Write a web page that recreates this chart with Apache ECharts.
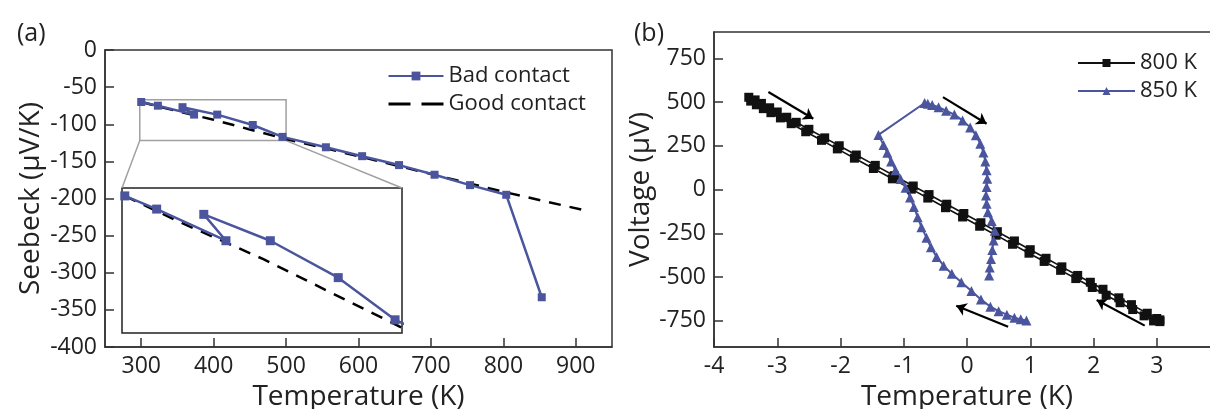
<!DOCTYPE html>
<html>
<head>
<meta charset="utf-8">
<script src="https://cdn.jsdelivr.net/npm/echarts/dist/echarts.min.js"></script>
<style>
  html, body { margin: 0; padding: 0; background: #fff; }
  #chart { width: 1210px; height: 409px; }
</style>
</head>
<body>
<div id="chart"></div>
<script>
// (a) Seebeck vs temperature
var badT = [300, 323, 373, 357, 405, 454, 495, 555, 605, 656, 705, 754, 804, 853];
var badS = [-70, -75, -87, -77, -87, -101, -117, -131, -143, -155, -168, -182, -195, -333];
var goodT = [300, 340, 400, 450, 500, 600, 700, 800, 908];
var goodS = [-70, -80, -94, -107, -120, -143, -167, -191, -215];
var seebeckTicks = [300, 400, 500, 600, 700, 800, 900];
// zoomed window shown in the inset
var insetT = [298, 500];
var insetS = [-122, -67];

// (b) voltage vs temperature difference
var coldT = [-3.45, -3.35, -3.25, -3.12, -3.0, -2.85, -2.7, -2.5, -2.25, -2.02, -1.75, -1.45, -1.15, -0.85, -0.6, -0.32, -0.05, 0.22, 0.48, 0.75, 1.0, 1.25, 1.5, 1.75, 1.95, 2.15, 2.4, 2.6, 2.85, 3.0, 3.05];
var coldV = [527, 512, 492, 467, 443, 413, 384, 344, 295, 250, 197, 138, 79, 20, -29, -84, -137, -190, -241, -294, -344, -393, -442, -491, -530, -570, -619, -658, -707, -737, -745];
var coldBackT = [3.05, 2.95, 2.8, 2.62, 2.42, 2.2, 1.98, 1.72, 1.48, 1.22, 0.98, 0.72, 0.46, 0.2, -0.07, -0.34, -0.62, -0.88, -1.18, -1.48, -1.78, -2.05, -2.3, -2.55, -2.78, -2.95, -3.1, -3.22, -3.33, -3.42];
var coldBackV = [-755, -751, -722, -686, -647, -604, -560, -509, -462, -411, -364, -313, -261, -210, -157, -104, -49, 2, 61, 120, 179, 232, 281, 330, 376, 409, 439, 462, 484, 505];
var hotT = [0.94, 0.85, 0.75, 0.63, 0.50, 0.37, 0.22, 0.07, -0.09, -0.24, -0.37, -0.48, -0.57, -0.64, -0.72, -0.78, -0.84, -0.90, -0.97, -1.05, -1.13, -1.20, -1.26, -1.32, -1.40,
            -0.67, -0.62, -0.55, -0.45, -0.33, -0.20, -0.07, 0.05, 0.14, 0.21, 0.26, 0.29, 0.31, 0.32, 0.31, 0.30, 0.31, 0.33, 0.39, 0.44, 0.42, 0.40, 0.38, 0.36, 0.35];
var hotV = [-749, -742, -733, -715, -695, -670, -628, -580, -530, -482, -435, -385, -330, -275, -215, -158, -100, -45, 10, 60, 110, 160, 210, 255, 312,
            494, 490, 483, 470, 450, 428, 395, 355, 310, 262, 212, 160, 110, 62, 14, -34, -82, -130, -180, -235, -292, -345, -397, -445, -492];
var voltTicks = [-750, -500, -250, 0, 250, 500, 750];
var arrows = [
    [[-3.14, 557], [-2.43, 404]],
    [[-0.38, 528], [0.31, 376]],
    [[0.65, -784], [-0.17, -664]],
    [[2.81, -778], [2.05, -631]]
];

var FONT = "Open Sans";
var BLUE = "#4a559e";
var AXIS = "#333";

function pairs(xs, ys) {
    return xs.map(function (x, i) { return [x, ys[i]]; });
}

function valueAxis(opts) {
    var ax = {
        type: "value",
        axisLine: { show: true, onZero: false, lineStyle: { color: AXIS, width: 1.5 } },
        axisTick: { show: true, inside: true, length: 9, lineStyle: { color: AXIS, width: 1.5 } },
        axisLabel: { color: "#222", fontSize: 23, fontFamily: FONT, margin: 8 },
        splitLine: { show: false },
        nameLocation: "middle",
        nameTextStyle: { color: "#222", fontSize: 28, fontFamily: FONT }
    };
    for (var k in opts) {
        if (typeof opts[k] == "object" && ax[k] && !Array.isArray(opts[k])) {
            for (var j in opts[k]) ax[k][j] = opts[k][j];
        } else {
            ax[k] = opts[k];
        }
    }
    return ax;
}

var chart = echarts.init(document.getElementById("chart"));

var option = {
    animation: false,
    backgroundColor: "#fff",
    title: [
        { text: "(a)", left: 12, top: 16, textStyle: { fontSize: 25, fontWeight: "normal", fontFamily: FONT, color: "#222" } },
        { text: "(b)", left: 629, top: 16, textStyle: { fontSize: 25, fontWeight: "normal", fontFamily: FONT, color: "#222" } }
    ],
    legend: [
        {
            data: [
                { name: "Bad contact" },
                { name: "Good contact", itemStyle: { opacity: 0 }, lineStyle: { type: [22, 11], width: 3 } }
            ],
            orient: "vertical",
            left: 382, top: 60,
            itemWidth: 55, itemHeight: 11, itemGap: 6,
            textStyle: { fontSize: 22, fontFamily: FONT, color: "#222" }
        },
        {
            data: ["800 K", "850 K"],
            orient: "vertical",
            left: 1072, top: 47,
            itemWidth: 57, itemHeight: 10, itemGap: 6,
            textStyle: { fontSize: 22, fontFamily: FONT, color: "#222" }
        }
    ],
    grid: [
        { left: 105, top: 50, right: 598, bottom: 62, outerBoundsMode: "none", show: true, borderColor: AXIS, borderWidth: 1.5 },
        { left: 122, top: 188, width: 280, height: 145, outerBoundsMode: "none", show: true, borderColor: "#222", borderWidth: 1.5, backgroundColor: "#fff" },
        { left: 714, top: 32, width: 506, bottom: 62, outerBoundsMode: "none", show: true, borderColor: AXIS, borderWidth: 1.5 }
    ],
    xAxis: [
        valueAxis({
            gridIndex: 0, min: 250, max: 950,
            name: "Temperature (K)", nameGap: 26,
            axisTick: { customValues: seebeckTicks },
            axisLabel: { customValues: seebeckTicks }
        }),
        { gridIndex: 1, type: "value", min: insetT[0], max: insetT[1], show: false },
        valueAxis({
            gridIndex: 2, min: -4, max: 4, interval: 1,
            name: "Temperature (K)", nameGap: 26
        })
    ],
    yAxis: [
        valueAxis({
            gridIndex: 0, min: -400, max: 0, interval: 50,
            name: "Seebeck (\u03bcV/K)", nameGap: 60
        }),
        { gridIndex: 1, type: "value", min: insetS[0], max: insetS[1], show: false },
        valueAxis({
            gridIndex: 2, min: -900, max: 900,
            name: "Voltage (\u03bcV)", nameGap: 58,
            axisTick: { customValues: voltTicks },
            axisLabel: { customValues: voltTicks }
        })
    ],
    series: [
        {
            name: "Good contact", type: "line", xAxisIndex: 0, yAxisIndex: 0,
            data: pairs(goodT, goodS), symbol: "none",
            itemStyle: { color: "#000" },
            lineStyle: { color: "#000", width: 2.5, type: [12, 9] }
        },
        {
            name: "Bad contact", type: "line", xAxisIndex: 0, yAxisIndex: 0,
            data: pairs(badT, badS), symbol: "rect", symbolSize: 8,
            itemStyle: { color: BLUE }, lineStyle: { color: BLUE, width: 2.5 },
            markArea: {
                silent: true,
                itemStyle: { color: "rgba(0,0,0,0)", borderColor: "#a0a0a0", borderWidth: 1.5 },
                data: [[{ coord: [insetT[0], insetS[1]] }, { coord: [insetT[1], insetS[0]] }]]
            }
        },
        {
            name: "Good contact", type: "line", xAxisIndex: 1, yAxisIndex: 1,
            data: pairs(goodT, goodS), symbol: "none",
            itemStyle: { color: "#000" },
            lineStyle: { color: "#000", width: 2.5, type: [12, 9] }
        },
        {
            name: "Bad contact", type: "line", xAxisIndex: 1, yAxisIndex: 1,
            data: pairs(badT, badS), symbol: "rect", symbolSize: 9,
            itemStyle: { color: BLUE }, lineStyle: { color: BLUE, width: 2.5 }
        },
        {
            name: "800 K", type: "line", xAxisIndex: 2, yAxisIndex: 2,
            data: pairs(coldT, coldV), symbol: "rect", symbolSize: 9,
            itemStyle: { color: "#111" }, lineStyle: { color: "#111", width: 1.6 }
        },
        {
            name: "800 K back", type: "line", xAxisIndex: 2, yAxisIndex: 2,
            data: pairs(coldBackT, coldBackV), symbol: "rect", symbolSize: 9,
            itemStyle: { color: "#111" }, lineStyle: { color: "#111", width: 1.6 }
        },
        {
            name: "850 K", type: "line", xAxisIndex: 2, yAxisIndex: 2,
            data: pairs(hotT, hotV), symbol: "triangle", symbolSize: 10,
            itemStyle: { color: BLUE }, lineStyle: { color: BLUE, width: 2 }
        },
        {
            name: "arrows", type: "lines", coordinateSystem: "cartesian2d",
            xAxisIndex: 2, yAxisIndex: 2,
            symbol: ["none", "arrow"], symbolSize: 10,
            lineStyle: { color: "#000", width: 2.2, opacity: 1 },
            data: arrows.map(function (a) { return { coords: a }; })
        }
    ]
};
chart.setOption(option);

// grey lines joining the zoom box to the inset
var boxL = chart.convertToPixel({ gridIndex: 0 }, [insetT[0], insetS[0]]);
var boxR = chart.convertToPixel({ gridIndex: 0 }, [insetT[1], insetS[0]]);
var insL = chart.convertToPixel({ gridIndex: 1 }, [insetT[0], insetS[1]]);
var insR = chart.convertToPixel({ gridIndex: 1 }, [insetT[1], insetS[1]]);
chart.setOption({
    graphic: [
        { type: "line", shape: { x1: boxL[0], y1: boxL[1], x2: insL[0], y2: insL[1] }, style: { stroke: "#a0a0a0", lineWidth: 1.5 }, silent: true },
        { type: "line", shape: { x1: boxR[0], y1: boxR[1], x2: insR[0], y2: insR[1] }, style: { stroke: "#a0a0a0", lineWidth: 1.5 }, silent: true }
    ]
});
</script>
</body>
</html>
